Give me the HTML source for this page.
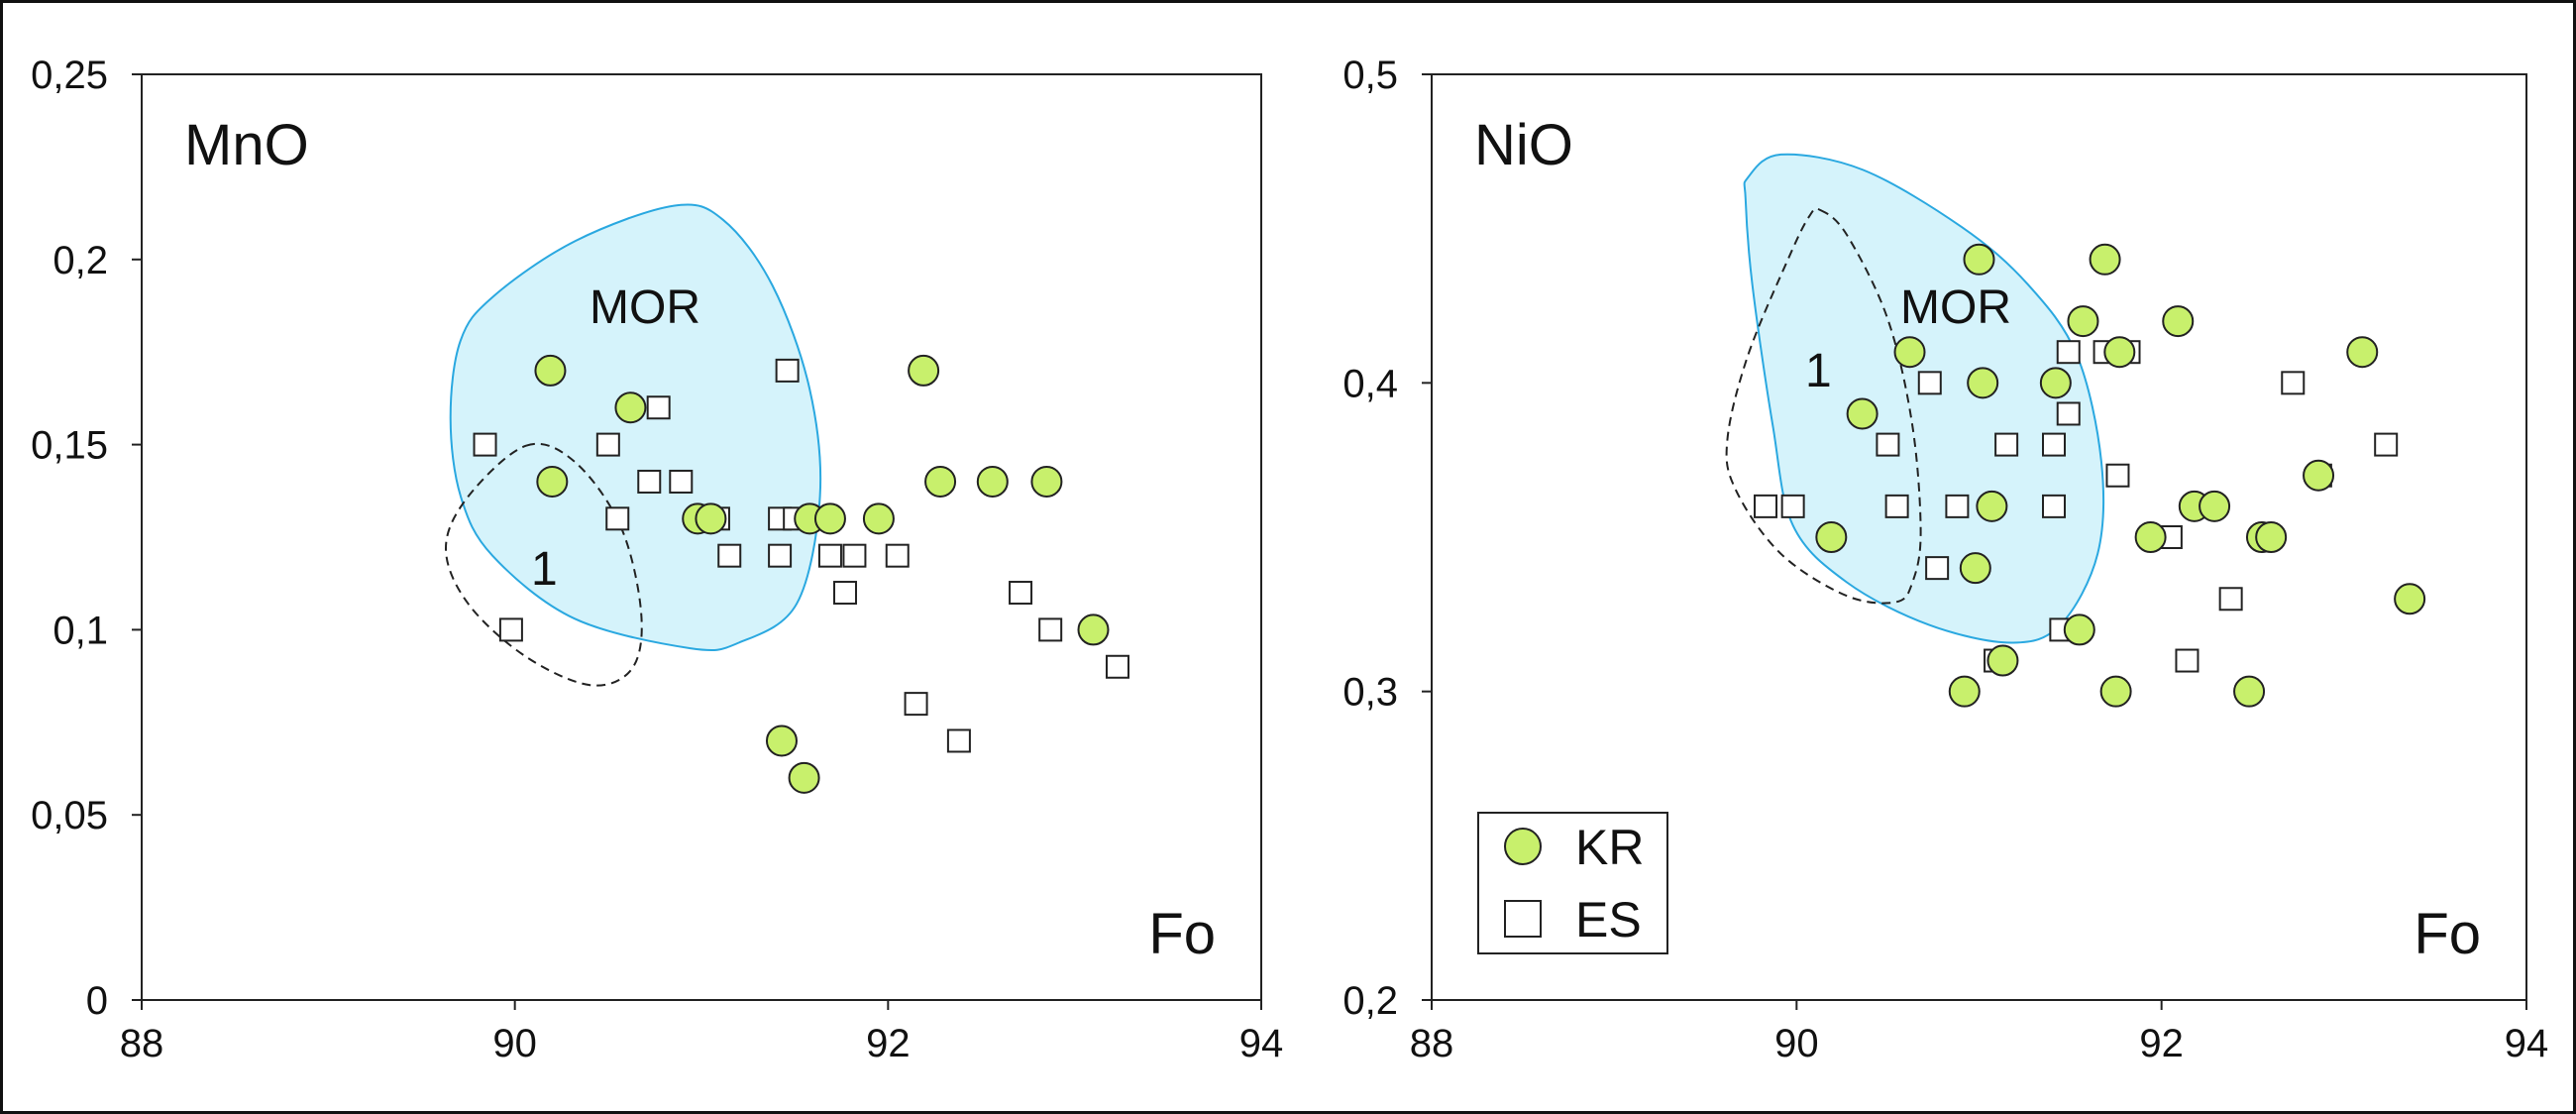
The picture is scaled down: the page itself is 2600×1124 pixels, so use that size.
<!DOCTYPE html>
<html><head><meta charset="utf-8"><style>
html,body{margin:0;padding:0;background:#fff}
svg{display:block}
text{font-family:"Liberation Sans",sans-serif;fill:#111}
</style></head><body>
<svg id="fig" width="2600" height="1124" viewBox="0 0 2600 1124" xmlns="http://www.w3.org/2000/svg">
<rect x="1.5" y="1.5" width="2597" height="1121" fill="#fff" stroke="#111" stroke-width="3"/>
</svg>
<script>
// ---- data ----
const xTicks = [88, 90, 92, 94];
const mnoTicks = [0, 0.05, 0.1, 0.15, 0.2, 0.25];
const mnoTickLabels = ["0", "0,05", "0,1", "0,15", "0,2", "0,25"];
const nioTicks = [0.2, 0.3, 0.4, 0.5];
const nioTickLabels = ["0,2", "0,3", "0,4", "0,5"];

const mnoKR_fo = [90.19, 90.62, 90.20, 90.98, 91.05, 91.58, 91.69, 91.95, 92.19, 92.28, 92.56, 92.85, 93.10, 91.43, 91.55];
const mnoKR_val = [0.17, 0.16, 0.14, 0.13, 0.13, 0.13, 0.13, 0.13, 0.17, 0.14, 0.14, 0.14, 0.10, 0.07, 0.06];
const mnoES_fo = [89.84, 90.50, 90.77, 90.72, 90.89, 90.55, 91.09, 91.15, 91.46, 91.42, 91.50, 91.42, 91.69, 91.82, 92.05, 91.77, 92.71, 92.87, 93.23, 92.15, 92.38, 89.98];
const mnoES_val = [0.15, 0.15, 0.16, 0.14, 0.14, 0.13, 0.13, 0.12, 0.17, 0.13, 0.13, 0.12, 0.12, 0.12, 0.12, 0.11, 0.11, 0.10, 0.09, 0.08, 0.07, 0.10];

const nioKR_fo = [91.0, 91.69, 91.57, 92.09, 90.62, 91.77, 93.10, 91.02, 91.42, 90.36, 91.07, 92.18, 92.29, 92.86, 90.19, 91.94, 92.55, 92.60, 90.98, 93.36, 91.55, 91.13, 90.92, 91.75, 92.48];
const nioKR_val = [0.44, 0.44, 0.42, 0.42, 0.41, 0.41, 0.41, 0.40, 0.40, 0.39, 0.36, 0.36, 0.36, 0.37, 0.35, 0.35, 0.35, 0.35, 0.34, 0.33, 0.32, 0.31, 0.30, 0.30, 0.30];
const nioES_fo = [91.49, 91.69, 91.82, 90.73, 92.72, 91.49, 90.50, 91.15, 91.41, 93.23, 91.76, 92.87, 89.83, 89.98, 90.55, 90.88, 91.41, 92.05, 90.77, 92.38, 91.45, 91.09, 92.14];
const nioES_val = [0.41, 0.41, 0.41, 0.40, 0.40, 0.39, 0.38, 0.38, 0.38, 0.38, 0.37, 0.37, 0.36, 0.36, 0.36, 0.36, 0.36, 0.35, 0.34, 0.33, 0.32, 0.31, 0.31];

const mnoMOR_fo = [89.655, 89.708, 89.884, 90.324, 90.852, 91.116, 91.38, 91.58, 91.635, 91.51, 91.20, 90.94, 90.32, 89.88, 89.71];
const mnoMOR_val = [0.157, 0.178, 0.190, 0.205, 0.2145, 0.2107, 0.193, 0.165, 0.136, 0.107, 0.0965, 0.095, 0.103, 0.120, 0.136];
const mnoR1_fo = [90.06, 90.32, 90.566, 90.676, 90.632, 90.41, 90.06, 89.75, 89.63, 89.75];
const mnoR1_val = [0.1497, 0.1454, 0.128, 0.105, 0.0898, 0.085, 0.0927, 0.107, 0.122, 0.136];

const nioMOR_fo = [89.734, 89.914, 90.365, 90.905, 91.266, 91.536, 91.67, 91.65, 91.446, 91.176, 90.725, 90.275, 89.98, 89.87, 89.757, 89.72];
const nioMOR_val = [0.4666, 0.474, 0.469, 0.4505, 0.432, 0.409, 0.3745, 0.3446, 0.3216, 0.3158, 0.3216, 0.3354, 0.3538, 0.386, 0.432, 0.4597];
const nioR1_fo = [90.13, 90.275, 90.5, 90.635, 90.68, 90.635, 90.545, 90.275, 89.914, 89.667, 89.62, 89.734, 89.96, 90.07];
const nioR1_val = [0.456, 0.448, 0.4206, 0.386, 0.3515, 0.3354, 0.329, 0.331, 0.3446, 0.3653, 0.3814, 0.409, 0.441, 0.454];

// ---- drawing ----
const NS = "http://www.w3.org/2000/svg";
const svg = document.getElementById("fig");
function mk(tag, attrs, parent) {
  const e = document.createElementNS(NS, tag);
  for (const k in attrs) e.setAttribute(k, attrs[k]);
  (parent || svg).appendChild(e);
  return e;
}
function smoothPath(pts) {
  const n = pts.length; let d = "M" + pts[0][0].toFixed(1) + "," + pts[0][1].toFixed(1);
  for (let i = 0; i < n; i++) {
    const p0 = pts[(i - 1 + n) % n], p1 = pts[i], p2 = pts[(i + 1) % n], p3 = pts[(i + 2) % n];
    const c1 = [p1[0] + (p2[0] - p0[0]) / 6, p1[1] + (p2[1] - p0[1]) / 6];
    const c2 = [p2[0] - (p3[0] - p1[0]) / 6, p2[1] - (p3[1] - p1[1]) / 6];
    d += " C" + c1.map(v => v.toFixed(1)).join(",") + " " + c2.map(v => v.toFixed(1)).join(",") + " " + p2.map(v => v.toFixed(1)).join(",");
  }
  return d + "Z";
}

function panel(cfg) {
  const g = mk("g", {});
  
  
  const X0 = cfg.x0, X1 = cfg.x1, Y0 = 75, Y1 = 1009;
  const sx = v => X0 + (v - 88) / 6 * (X1 - X0);
  const sy = v => Y1 - (v - cfg.ymin) / (cfg.ymax - cfg.ymin) * (Y1 - Y0);

  const frame = mk("rect", {x: X0, y: Y0, width: X1 - X0, height: Y1 - Y0, fill: "none", stroke: "#222", "stroke-width": 2}, g);
  
  

  // regions
  const mor = mk("path", {d: smoothPath(cfg.morX.map((v, i) => [sx(v), sy(cfg.morY[i])])), fill: "#d5f3fb", stroke: "#2aa8e0", "stroke-width": 2}, g);
  
  
  const r1 = mk("path", {d: smoothPath(cfg.r1X.map((v, i) => [sx(v), sy(cfg.r1Y[i])])), fill: "none", stroke: "#222", "stroke-width": 2, "stroke-dasharray": "9,6"}, g);
  
  

  // ticks
  xTicks.forEach(t => {
    const l = mk("line", {x1: sx(t), x2: sx(t), y1: Y1, y2: Y1 + 10, stroke: "#222", "stroke-width": 2}, g);
    
    
    const tx = mk("text", {x: sx(t), y: Y1 + 57, "font-size": 40, "text-anchor": "middle"}, g);
    tx.textContent = t;
    
    
  });
  cfg.yTicks.forEach((t, i) => {
    const l = mk("line", {x1: X0 - 10, x2: X0, y1: sy(t), y2: sy(t), stroke: "#222", "stroke-width": 2}, g);
    
    
    const tx = mk("text", {x: X0 - 34, y: sy(t) + 14, "font-size": 40, "text-anchor": "end"}, g);
    tx.textContent = cfg.yLabels[i];
    
    
  });

  // points
  cfg.esX.forEach((v, i) => {
    const s = mk("rect", {x: sx(v) - 11, y: sy(cfg.esY[i]) - 11, width: 22, height: 22, fill: "#fff", stroke: "#222", "stroke-width": 2}, g);
    
    
  });
  cfg.krX.forEach((v, i) => {
    const c = mk("circle", {cx: sx(v), cy: sy(cfg.krY[i]), r: 15, fill: "#c8f06c", stroke: "#222", "stroke-width": 2}, g);
    
    
  });

  // labels
  const lab = (txt, x, y, fs, name, anchor) => {
    const t = mk("text", {x: x, y: y, "font-size": fs, "text-anchor": anchor || "start"}, g);
    t.textContent = txt;
    
    
  };
  lab(cfg.title, X0 + 43, 166, 58, "panel-title");
  lab("MOR", cfg.morLabel[0], cfg.morLabel[1], 48, "mor-label");
  lab("1", cfg.r1Label[0], cfg.r1Label[1], 48, "field-1-label");
  lab("Fo", X1 - 46, 962, 58, "x-axis-title", "end");
  return g;
}

panel({name: "mno-panel", x0: 143, x1: 1273, ymin: 0, ymax: 0.25, yTicks: mnoTicks, yLabels: mnoTickLabels,
  krX: mnoKR_fo, krY: mnoKR_val, esX: mnoES_fo, esY: mnoES_val,
  morX: mnoMOR_fo, morY: mnoMOR_val, r1X: mnoR1_fo, r1Y: mnoR1_val,
  title: "MnO", morLabel: [595, 326], r1Label: [536, 590]});
panel({name: "nio-panel", x0: 1445, x1: 2550, ymin: 0.2, ymax: 0.5, yTicks: nioTicks, yLabels: nioTickLabels,
  krX: nioKR_fo, krY: nioKR_val, esX: nioES_fo, esY: nioES_val,
  morX: nioMOR_fo, morY: nioMOR_val, r1X: nioR1_fo, r1Y: nioR1_val,
  title: "NiO", morLabel: [1918, 326], r1Label: [1822, 390]});

// legend
const lg = mk("g", {});


const lb = mk("rect", {x: 1492, y: 820, width: 191, height: 142, fill: "#fff", stroke: "#222", "stroke-width": 2}, lg);


const lc = mk("circle", {cx: 1537, cy: 854, r: 18, fill: "#c8f06c", stroke: "#222", "stroke-width": 2}, lg);


const lt1 = mk("text", {x: 1590, y: 872, "font-size": 50}, lg);
lt1.textContent = "KR";


const ls = mk("rect", {x: 1519, y: 909, width: 36, height: 36, fill: "#fff", stroke: "#222", "stroke-width": 2}, lg);


const lt2 = mk("text", {x: 1590, y: 945, "font-size": 50}, lg);
lt2.textContent = "ES";


</script>
</body></html>
